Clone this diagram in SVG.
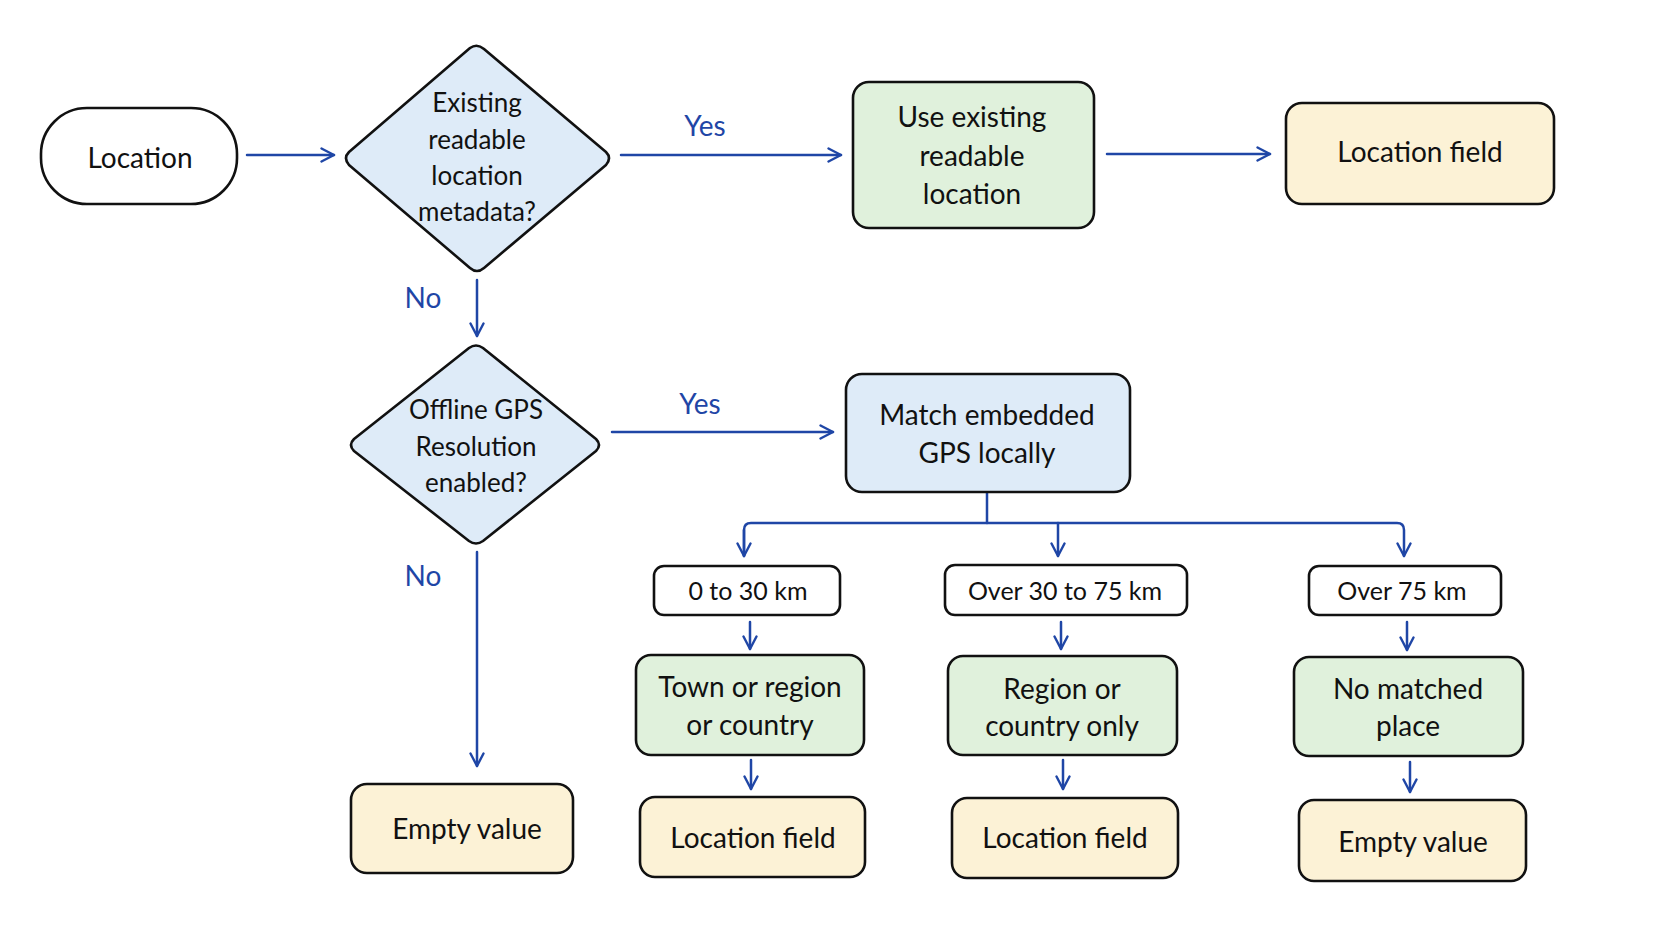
<svg xmlns="http://www.w3.org/2000/svg" width="1672" height="941" viewBox="0 0 1672 941">
<defs>
<marker id="arr" viewBox="0 0 16 16" refX="14.5" refY="8" markerWidth="16" markerHeight="16" markerUnits="userSpaceOnUse" orient="auto">
<path d="M2,1.5 L14.5,8 L2,14.5" fill="none" stroke="#1f46a6" stroke-width="2.4" stroke-linecap="round" stroke-linejoin="round"/>
</marker>
<style>
.n{stroke:#111;stroke-width:2.6;stroke-linejoin:round}
.w{fill:#ffffff}.b{fill:#deebf8}.g{fill:#e0f1dc}.y{fill:#fcf2d6}
.t{font-family:Lato,"Noto Sans",sans-serif;font-size:28px;fill:#111;text-anchor:middle}
.d{font-family:Lato,"Noto Sans",sans-serif;font-size:26px;fill:#111;text-anchor:middle}
.s{font-family:Lato,"Noto Sans",sans-serif;font-size:25px;fill:#111;text-anchor:middle}
.l{font-family:Lato,"Noto Sans",sans-serif;font-size:28px;fill:#1f46a6;text-anchor:middle}
.c{stroke:#1f46a6;stroke-width:2.5;fill:none;stroke-linecap:round;stroke-linejoin:round}
</style>
</defs>
<rect width="1672" height="941" fill="#ffffff"/>
<g id="connectors">
<line class="c" x1="247" y1="155" x2="334" y2="155" marker-end="url(#arr)"/>
<line class="c" x1="621" y1="155" x2="841" y2="155" marker-end="url(#arr)"/>
<line class="c" x1="1107" y1="154" x2="1270" y2="154" marker-end="url(#arr)"/>
<line class="c" x1="477" y1="280" x2="477" y2="336" marker-end="url(#arr)"/>
<line class="c" x1="612" y1="432" x2="833" y2="432" marker-end="url(#arr)"/>
<line class="c" x1="477" y1="552" x2="477" y2="766" marker-end="url(#arr)"/>
<path class="c" d="M987,493 L987,523"/>
<path class="c" d="M744,556 L744,530 Q744,523 751,523 L1397,523 Q1404,523 1404,530 L1404,556" marker-end="url(#arr)"/>
<line class="c" x1="744" y1="530" x2="744" y2="556" marker-end="url(#arr)"/>
<line class="c" x1="1058" y1="523" x2="1058" y2="556" marker-end="url(#arr)"/>
<line class="c" x1="750" y1="622" x2="750" y2="649" marker-end="url(#arr)"/>
<line class="c" x1="1061" y1="622" x2="1061" y2="649" marker-end="url(#arr)"/>
<line class="c" x1="1407" y1="622" x2="1407" y2="650" marker-end="url(#arr)"/>
<line class="c" x1="751" y1="760" x2="751" y2="789" marker-end="url(#arr)"/>
<line class="c" x1="1063" y1="760" x2="1063" y2="789" marker-end="url(#arr)"/>
<line class="c" x1="1410" y1="762" x2="1410" y2="792" marker-end="url(#arr)"/>
<text class="l" x="705" y="136">Yes</text>
<text class="l" x="423" y="308">No</text>
<text class="l" x="700" y="414">Yes</text>
<text class="l" x="423" y="586">No</text>
</g>
<g id="location">
<rect class="n w" x="41" y="108" width="196" height="96" rx="46"/>
<text class="t" x="140" y="168">Location</text>
</g>
<g id="decision-existing">
<path class="n b" d="M470,48 Q477,43 484,49 L606,152 Q612,158 606,165 L484,268 Q477,274 470,268 L349,165 Q343,158 349,152 Z"/>
<text class="d" x="477" y="112">Existing</text>
<text class="d" x="477" y="149">readable</text>
<text class="d" x="477" y="185">location</text>
<text class="d" x="477" y="221">metadata?</text>
</g>
<g id="use-existing">
<rect class="n g" x="853" y="82" width="241" height="146" rx="16"/>
<text class="t" x="972" y="127">Use existing</text>
<text class="t" x="972" y="166">readable</text>
<text class="t" x="972" y="204">location</text>
</g>
<g id="location-field-top">
<rect class="n y" x="1286" y="103" width="268" height="101" rx="16"/>
<text class="t" x="1420" y="162">Location field</text>
</g>
<g id="decision-offline">
<path class="n b" d="M469,348 Q476,343 483,348 L596,439 Q602,445 596,451 L483,541 Q476,546 469,541 L354,451 Q348,445 354,439 Z"/>
<text class="d" x="476" y="419">Offline GPS</text>
<text class="d" x="476" y="456">Resolution</text>
<text class="d" x="476" y="492">enabled?</text>
</g>
<g id="match-gps">
<rect class="n b" x="846" y="374" width="284" height="118" rx="16"/>
<text class="t" x="987" y="425">Match embedded</text>
<text class="t" x="987" y="463">GPS locally</text>
</g>
<g id="empty-left">
<rect class="n y" x="351" y="784" width="222" height="89" rx="16"/>
<text class="t" x="467" y="839">Empty value</text>
</g>
<g id="range-0-30">
<rect class="n w" x="654" y="566" width="186" height="49" rx="10"/>
<text class="s" x="748" y="600">0 to 30 km</text>
</g>
<g id="range-30-75">
<rect class="n w" x="945" y="565" width="242" height="50" rx="10"/>
<text class="s" x="1065" y="600">Over 30 to 75 km</text>
</g>
<g id="range-75">
<rect class="n w" x="1309" y="566" width="192" height="49" rx="10"/>
<text class="s" x="1402" y="600">Over 75 km</text>
</g>
<g id="town-region">
<rect class="n g" x="636" y="655" width="228" height="100" rx="15"/>
<text class="t" x="750" y="697">Town or region</text>
<text class="t" x="750" y="735">or country</text>
</g>
<g id="region-country">
<rect class="n g" x="948" y="656" width="229" height="99" rx="15"/>
<text class="t" x="1062" y="699">Region or</text>
<text class="t" x="1062" y="736">country only</text>
</g>
<g id="no-match">
<rect class="n g" x="1294" y="657" width="229" height="99" rx="15"/>
<text class="t" x="1408" y="699">No matched</text>
<text class="t" x="1408" y="736">place</text>
</g>
<g id="location-field-1">
<rect class="n y" x="640" y="797" width="225" height="80" rx="15"/>
<text class="t" x="753" y="848">Location field</text>
</g>
<g id="location-field-2">
<rect class="n y" x="952" y="798" width="226" height="80" rx="15"/>
<text class="t" x="1065" y="848">Location field</text>
</g>
<g id="empty-right">
<rect class="n y" x="1299" y="800" width="227" height="81" rx="15"/>
<text class="t" x="1413" y="852">Empty value</text>
</g>
</svg>
